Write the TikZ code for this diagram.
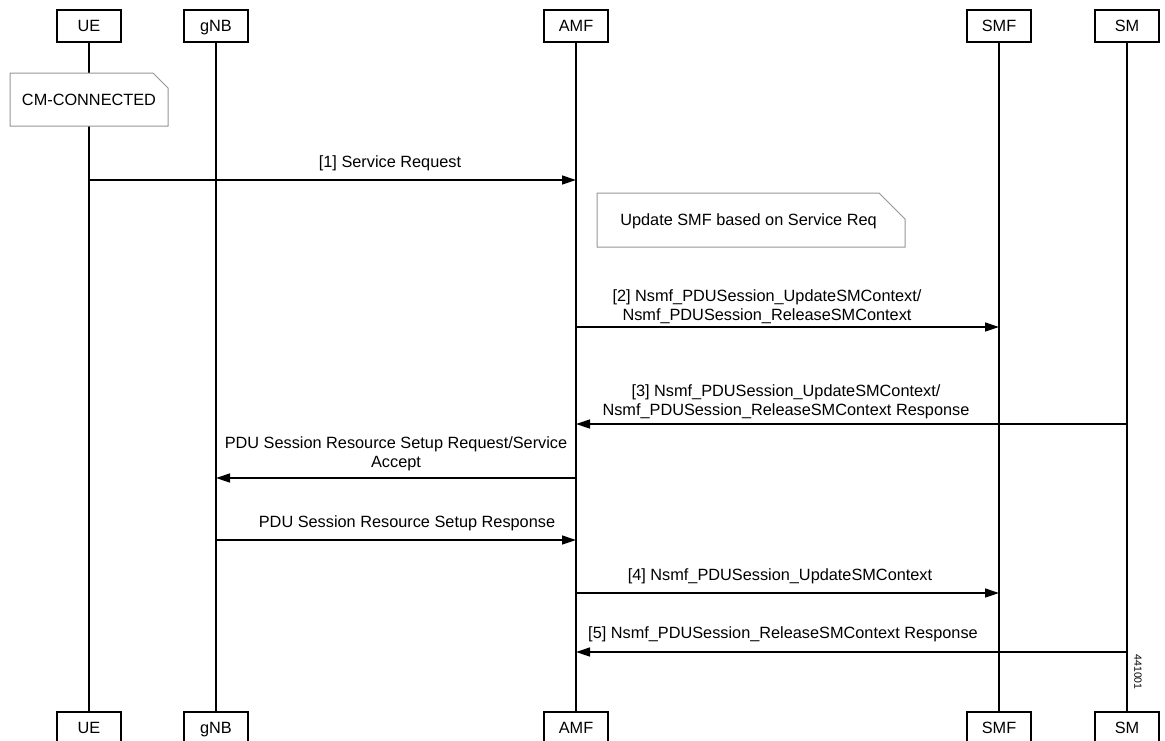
\documentclass[tikz,border=0pt]{standalone}
\usepackage{fontspec}
\setmainfont{Liberation Sans}
\usetikzlibrary{arrows.meta,shapes.misc,positioning}
\definecolor{notegray}{RGB}{150,150,150}
\tikzset{
  basic/.style  = {font=\fontsize{16.3}{19}\selectfont},
  entity/.style = {basic, draw, line width=1.4pt, fill=white, inner sep=0pt,
                   text height=11.7pt, text depth=0pt,
                   minimum width=64pt, minimum height=32pt},
  note/.style   = {basic, draw=notegray, line width=1pt, fill=white, inner sep=0pt,
                   text height=0pt, text depth=0pt,
                   chamfered rectangle, chamfered rectangle corners=north east},
  label/.style  = {basic, align=center, inner sep=0pt},
  msg/.style    = {line width=1.4pt, -{Triangle[length=14pt,width=9pt]}},
  life/.style   = {line width=1.4pt}
}

\begin{document}
\begin{tikzpicture}[x=1pt, y=-1pt]
	\useasboundingbox (0,0) rectangle (1165,740);
	
	% entities, top and bottom
	\node[entity] (ue)  at (89,26)   {UE};
	\node[entity] (gnb) at (216,26)  {gNB};
	\node[entity] (amf) at (576,26)  {AMF};
	\node[entity] (smf) at (999,26)  {SMF};
	\node[entity] (sm)  at (1127,26) {SM};
	\node[entity] (ueB)  at (89,728)   {UE};
	\node[entity] (gnbB) at (216,728)  {gNB};
	\node[entity] (amfB) at (576,728)  {AMF};
	\node[entity] (smfB) at (999,728)  {SMF};
	\node[entity] (smB)  at (1127,728) {SM};
	
	% lifelines
	\foreach \name in {ue,gnb,amf,smf,sm}
	  \draw[life] (\name) -- (\name B);
	
	% notes
	\node[note, minimum width=158pt, minimum height=53pt,
	      chamfered rectangle xsep=15pt, chamfered rectangle ysep=15pt]
	      (cm) at (89,99.5) {\raisebox{-5.85pt}{CM-CONNECTED}};
	\node[note, minimum width=308pt, minimum height=54pt,
	      chamfered rectangle xsep=27pt, chamfered rectangle ysep=26pt]
	      (upd) at (751,220) {\hspace*{-5pt}\raisebox{-5.85pt}{Update SMF based on Service Req}};
	
	% message rows
	\coordinate (m1) at (0,180);
	\coordinate (m2) at (0,327);
	\coordinate (m3) at (0,424);
	\coordinate (m4) at (0,478);
	\coordinate (m5) at (0,540);
	\coordinate (m6) at (0,593);
	\coordinate (m7) at (0,652);
	
	% messages
	\draw[msg] (ue |- m1)  -- (amf |- m1);
	\draw[msg] (amf |- m2) -- (smf |- m2);
	\draw[msg] (sm |- m3)  -- (amf |- m3);
	\draw[msg] (amf |- m4) -- (gnb |- m4);
	\draw[msg] (gnb |- m5) -- (amf |- m5);
	\draw[msg] (amf |- m6) -- (smf |- m6);
	\draw[msg] (sm |- m7)  -- (amf |- m7);
	
	% message labels
	\node[label] (l1) at (390,163) {[1] Service Request};
	\node[label] (l2) at (767,306.5) {[2] Nsmf\_PDUSession\_UpdateSMContext/\\Nsmf\_PDUSession\_ReleaseSMContext};
	\node[label] (l3) at (786,402) {[3] Nsmf\_PDUSession\_UpdateSMContext/\\Nsmf\_PDUSession\_ReleaseSMContext Response};
	\node[label] (l4) at (396,454) {PDU Session Resource Setup Request/Service\\Accept};
	\node[label] (l5) at (407,523) {PDU Session Resource Setup Response};
	\node[label] (l6) at (780,576) {[4] Nsmf\_PDUSession\_UpdateSMContext};
	\node[label] (l7) at (783,634) {[5] Nsmf\_PDUSession\_ReleaseSMContext Response};
	
	% figure number
	\node[rotate=-90, inner sep=0pt, font=\fontsize{10.5}{12}\selectfont] (fig) at (1138,672) {441001};
	
\end{tikzpicture}
\end{document}
